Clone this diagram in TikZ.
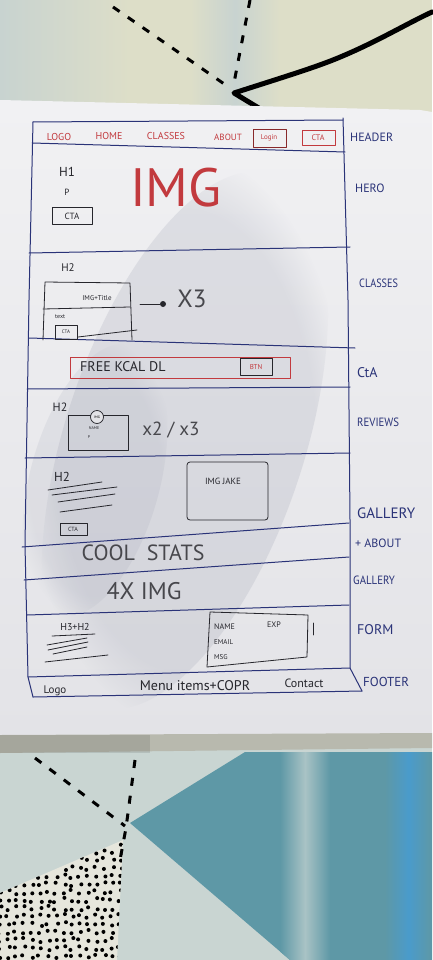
\documentclass[tikz,border=0pt]{standalone}
\usepackage{fontspec}
\usetikzlibrary{fadings}
\setmainfont{PT Sans}
\definecolor{ink}{HTML}{2A3378}
\definecolor{redink}{HTML}{C23A3E}
\definecolor{blk}{HTML}{26262C}
\definecolor{paper}{HTML}{E3E3E7}
\definecolor{paperlight}{HTML}{F1F1F3}
\definecolor{fabric}{HTML}{DDDEC8}
\definecolor{fabricblue}{HTML}{C8D3D0}
\definecolor{tealcloth}{HTML}{5E98A6}
\definecolor{paleblue}{HTML}{C9D5D2}
\definecolor{edge}{HTML}{B8B9AE}
\definecolor{dotcloth}{HTML}{E6E6DC}
\definecolor{shadow}{HTML}{8E93A6}
\definecolor{brightblue}{HTML}{4A9BCB}
\begin{document}
\begin{tikzpicture}[x=1pt,y=-1pt,
  pen/.style={draw=ink,line width=1pt,line cap=round,line join=round},
  bpen/.style={draw=blk,line width=0.8pt,line cap=round,line join=round},
  rpen/.style={draw=redink,line width=0.8pt,line cap=round,line join=round},
  side/.style={text=ink,inner sep=0pt,anchor=west,font=\fontsize{12}{12}\selectfont},
  nav/.style={text=redink,inner sep=0pt,font=\fontsize{10}{10}\selectfont},
  note/.style={text=blk,inner sep=0pt},
  dashline/.style={draw=black,line width=3pt,dash pattern=on 8pt off 10pt},
  softspot/.style={path fading=circle with fuzzy edge 20 percent},
  ]
\useasboundingbox (0,0) rectangle (432,960);

% ---------- cloth above the sheet ----------
\fill[fabric] (0,0) rectangle (432,115);
\shade[left color=fabricblue,right color=fabric] (0,0) rectangle (130,115);
\shade[left color=fabric,right color=fabric,middle color=fabricblue] (190,0) rectangle (280,115);
\draw[dashline] (113,7) -- (230,88);
\draw[dashline] (250,0) -- (233,88);
\draw[black,line width=5pt,line cap=round,line join=round]
  (262,110) -- (234,93) .. controls (290,75) and (320,66) .. (345,55)
  .. controls (380,40) and (410,22) .. (432,12);

% ---------- cloth below the sheet ----------
\fill[paleblue] (0,745) rectangle (432,960);
\fill[tealcloth] (130,823) -- (245,752) -- (432,752) -- (432,960) -- (290,960) -- cycle;
\begin{scope}
  \clip (130,823) -- (245,752) -- (432,752) -- (432,960) -- (290,960) -- cycle;
  \shade[left color=tealcloth,right color=tealcloth,middle color=paleblue!70!tealcloth] (280,752) rectangle (330,960);
  \shade[left color=tealcloth,right color=tealcloth,middle color=brightblue] (385,752) rectangle (432,960);
\end{scope}
\begin{scope}
  \clip (0,893) -- (123,840) -- (117,960) -- (0,960) -- cycle;
  \fill[dotcloth] (0,830) rectangle (130,960);
  \pgfmathsetseed{7}
  \foreach \i in {0,...,16} {
    \foreach \j in {0,...,16} {
      \pgfmathsetmacro\dx{\i*8+2.2*rand}
      \pgfmathsetmacro\dy{836+\j*8+2.2*rand}
      \fill[black] (\dx,\dy) circle (2);
    }
  }
\end{scope}
\draw[dashline] (35,758) -- (125,826);
\draw[dashline] (135,760) -- (126,828) -- (120,860);

% ---------- the sheet ----------
\shade[top color=paperlight,bottom color=paper]
  (0,100) -- (420,110) -- (432,112) -- (432,737) -- (0,737) -- cycle;
\begin{scope}[shift={(185,440)},rotate=-18]
  \fill[shadow,opacity=0.18,softspot] (0,0) ellipse (120 and 280);
\end{scope}
\begin{scope}[shift={(95,480)},rotate=-15]
  \fill[shadow,opacity=0.12,softspot] (0,0) ellipse (65 and 140);
\end{scope}
\fill[edge] (0,735) -- (432,733) -- (432,748) -- (0,753) -- cycle;
\fill[black,opacity=0.10] (0,735) rectangle (150,753);

% ---------- page frame and section rules ----------
\draw[pen] (33,122) -- (343,120);
\draw[pen] (33,122) -- (29,300) -- (25,545) -- (28,677) -- (33,697);
\draw[pen] (343,118) -- (348,300) -- (350,520) -- (350,668) -- (362,691);
\draw[pen] (32,143) -- (345,152);
\draw[pen] (29,253) -- (350,247);
\draw[pen] (29,338) -- (355,348);
\draw[pen] (27,389) -- (350,387);
\draw[pen] (25,458) -- (350,453);
\draw[pen] (22,547) -- (349,523);
\draw[pen] (24,580) -- (349,557);
\draw[pen] (27,615) -- (349,605);
\draw[pen] (28,677) -- (350,668);
\draw[pen] (33,697) -- (362,691);

% ---------- section names ----------
\node[side] (sHeader) at (350,137) {HEADER};
\node[side] (sHero) at (355,188) {HERO};
\node[side,xscale=0.85] (sClasses) at (359,283) {CLASSES};
\node[side,font=\fontsize{14}{14}\selectfont] (sCta) at (357,373) {CtA};
\node[side,xscale=0.9] (sReviews) at (357,422) {REVIEWS};
\node[side,font=\fontsize{15}{15}\selectfont] (sGallery) at (357,513) {GALLERY};
\node[side] (sAbout) at (355,543) {+ ABOUT};
\node[side,xscale=0.9] (sGallery2) at (353,580) {GALLERY};
\node[side,font=\fontsize{14}{14}\selectfont] (sForm) at (357,630) {FORM};
\node[side,font=\fontsize{13}{13}\selectfont] (sFooter) at (363,682) {FOOTER};

% ---------- header bar ----------
\node[nav] (navLogo) at (59,137) {LOGO};
\node[nav] (navHome) at (109,136) {HOME};
\node[nav] (navClasses) at (166,136) {CLASSES};
\node[nav,font=\fontsize{9}{9}\selectfont] (navAbout) at (228,137) {ABOUT};
\node[nav,font=\fontsize{7}{7}\selectfont] (navLogin) at (269,138) {Login};
\draw[rpen,draw=redink!70!black] (253,129) rectangle (286,147);
\node[nav,font=\fontsize{8}{8}\selectfont] (navCta) at (318,138) {CTA};
\draw[rpen] (302,130) rectangle (335,145);

% ---------- hero ----------
\node[note,font=\fontsize{13}{13}\selectfont] (heroH1) at (67,172) {H1};
\node[note,font=\fontsize{9}{9}\selectfont] (heroP) at (67,192) {P};
\node[note,font=\fontsize{9}{9}\selectfont] (heroCta) at (72,216) {CTA};
\draw[bpen] (52,207) rectangle (92,224);
\node[text=redink,inner sep=0pt,font=\fontsize{54}{54}\selectfont] (heroImg) at (176,188) {IMG};

% ---------- classes ----------
\node[note,font=\fontsize{11}{11}\selectfont] (clsH2) at (68,268) {H2};
\draw[bpen] (43,340) -- (45,282) -- (130,283) -- (132,340);
\draw[bpen] (43,309) -- (130,307);
\draw[bpen] (78,337) -- (137,330);
\node[note,font=\fontsize{7}{7}\selectfont] (clsCard) at (97,298) {IMG+Title};
\node[note,font=\fontsize{6}{6}\selectfont,anchor=west] (clsText) at (55,317) {text};
\node[note,font=\fontsize{5}{5}\selectfont] (clsCta) at (66,332) {CTA};
\draw[bpen] (55,325) rectangle (77,339);
\coordinate (clsArrowStart) at (140,304);
\node[circle,fill=blk,inner sep=0pt,minimum size=6pt] (clsDot) at (163,304) {};
\draw[bpen] (clsArrowStart) -- (clsDot);
\node[note,font=\fontsize{25}{25}\selectfont,text=blk!85] (clsTimes) at (192,299) {X3};

% ---------- call to action strip ----------
\draw[rpen] (70,357) rectangle (290,378);
\node[note,font=\fontsize{14}{14}\selectfont,anchor=west] (ctaText) at (80,367) {FREE KCAL DL};
\node[nav,font=\fontsize{7}{7}\selectfont] (ctaBtn) at (256,367) {BTN};
\draw[bpen] (240,358) rectangle (272,375);

% ---------- reviews ----------
\node[note,font=\fontsize{12}{12}\selectfont] (revH2) at (60,407) {H2};
\draw[bpen] (68,415) rectangle (128,450);
\node[circle,draw=blk,line width=0.7pt,fill=paper,inner sep=0pt,minimum size=13pt,
  font=\fontsize{3.5}{3.5}\selectfont] (revImg) at (97,417) {IMG};
\node[note,font=\fontsize{4}{4}\selectfont] (revName) at (94,428) {NAME};
\node[note,font=\fontsize{4}{4}\selectfont] (revP) at (89,437) {P};
\node[note,font=\fontsize{19}{19}\selectfont,text=blk!85] (revTimes) at (171,430) {x2 / x3};

% ---------- gallery + about ----------
\node[note,font=\fontsize{13}{13}\selectfont] (galH2) at (62,477) {H2};
\draw[bpen] (48,490) -- (102,482);
\draw[bpen] (52,495) -- (117,487);
\draw[bpen] (58,502) -- (115,494);
\draw[bpen] (60,512) -- (112,505);
\node[note,font=\fontsize{6}{6}\selectfont] (galCta) at (73,529) {CTA};
\draw[bpen] (60,523) rectangle (87,535);
\draw[bpen,rounded corners=3pt] (187,462) rectangle (268,520);
\node[note,font=\fontsize{9}{9}\selectfont] (galImg) at (223,481) {IMG JAKE};

% ---------- stats and image row ----------
\node[note,font=\fontsize{22}{22}\selectfont,text=blk!85] (stats) at (143,553) {COOL\ \ STATS};
\node[note,font=\fontsize{24}{24}\selectfont,text=blk!85] (fourImg) at (144,591) {4X IMG};

% ---------- form ----------
\node[note,font=\fontsize{10}{10}\selectfont] (formHead) at (75,627) {H3+H2};
\draw[bpen] (52,636) -- (95,634);
\draw[bpen] (47,645) -- (87,638);
\draw[bpen] (48,650) -- (88,642);
\draw[bpen] (53,654) -- (87,647);
\draw[bpen] (45,662) -- (108,655);
\draw[bpen] (210,612) -- (308,615) -- (307,657) -- (207,667) -- cycle;
\draw[bpen] (313,623) -- (313,635);
\node[note,font=\fontsize{8}{8}\selectfont,anchor=west] (formName) at (214,627) {NAME};
\node[note,font=\fontsize{8}{8}\selectfont,anchor=west] (formExp) at (267,625) {EXP};
\node[note,font=\fontsize{7}{7}\selectfont,anchor=west] (formEmail) at (214,642) {EMAIL};
\node[note,font=\fontsize{7}{7}\selectfont,anchor=west] (formMsg) at (214,657) {MSG};

% ---------- footer ----------
\node[note,font=\fontsize{11}{11}\selectfont] (footLogo) at (55,691) {Logo};
\node[note,font=\fontsize{14}{14}\selectfont] (footMenu) at (195,686) {Menu items+COPR};
\node[note,font=\fontsize{12}{12}\selectfont] (footContact) at (304,683) {Contact};
\end{tikzpicture}
\end{document}
